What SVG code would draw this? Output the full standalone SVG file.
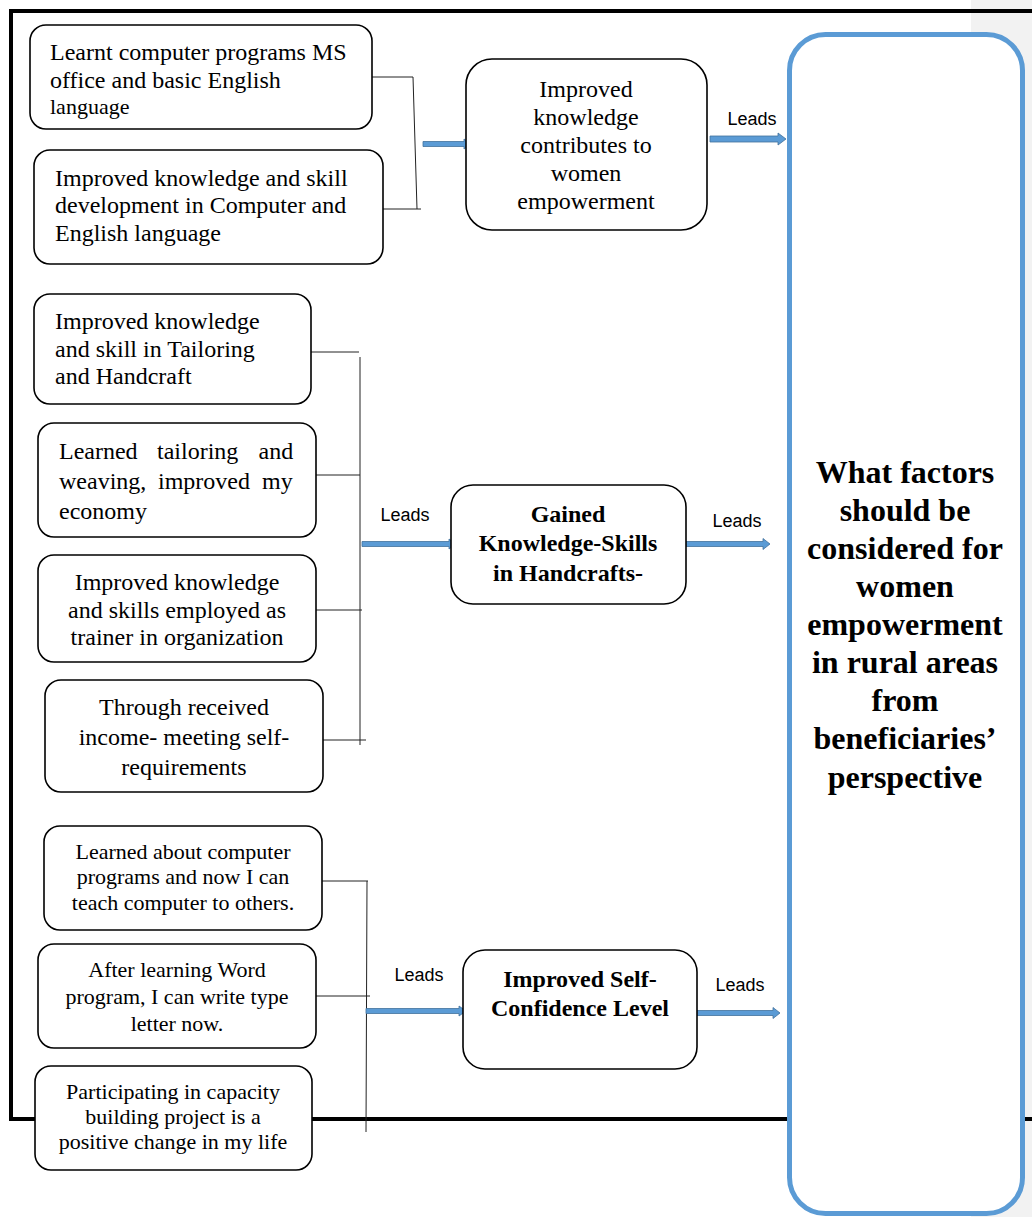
<svg xmlns="http://www.w3.org/2000/svg" width="1032" height="1217" viewBox="0 0 1032 1217">
<style>
.box{fill:#fff;stroke:#000;stroke-width:1.6}
.t{font-family:"Liberation Serif","Times New Roman",serif;font-size:24px;fill:#000}
.s{font-size:22px}
.c{text-anchor:middle}
.b{font-weight:bold}
.big{font-size:32px}
.lead{font-family:"Liberation Sans",Arial,sans-serif;font-size:18px;fill:#000;text-anchor:middle}
.ln{stroke:#222;stroke-width:1;fill:none}
.arr{fill:#5b9bd5;stroke:#41719c;stroke-width:0.8}
.frame{stroke:#000;stroke-width:4;fill:none}
</style>
<rect x="0" y="0" width="1032" height="1217" fill="#fff"/>
<rect x="971" y="0" width="61" height="1217" fill="#f2f2f2"/>
<g id="frame">
<line class="frame" x1="9" y1="11" x2="1032" y2="11"/>
<line class="frame" x1="11" y1="9" x2="11" y2="1121"/>
<line class="frame" x1="9" y1="1119" x2="1032" y2="1119"/>
</g>
<g id="connectors">
<polyline class="ln" points="372,77 413,77 417,209"/>
<line class="ln" x1="383" y1="209" x2="421" y2="209"/>
<line class="ln" x1="311" y1="352" x2="359" y2="352"/>
<line class="ln" x1="360" y1="357" x2="360" y2="745"/>
<line class="ln" x1="316" y1="475" x2="360" y2="475"/>
<line class="ln" x1="316" y1="610" x2="362" y2="610"/>
<line class="ln" x1="323" y1="740" x2="366" y2="740"/>
<line class="ln" x1="322" y1="881" x2="368" y2="881"/>
<line class="ln" x1="367" y1="881" x2="366" y2="1132"/>
<line class="ln" x1="316" y1="996" x2="370" y2="996"/>
<polygon class="arr" points="423,141.5 464,141.5 464,139 471,144 464,149 464,146.5 423,146.5"/>
<polygon class="arr" points="710,136 778,136 778,133 786,139 778,145 778,142 710,142"/>
<polygon class="arr" points="362,541.5 449,541.5 449,539 456,544 449,549 449,546.5 362,546.5"/>
<polygon class="arr" points="686,541.5 763,541.5 763,538.5 770,544 763,549.5 763,546.5 686,546.5"/>
<polygon class="arr" points="366,1008.5 459,1008.5 459,1006 466,1011 459,1016 459,1013.5 366,1013.5"/>
<polygon class="arr" points="697,1010.5 773,1010.5 773,1007.5 780,1013 773,1018.5 773,1015.5 697,1015.5"/>
<text class="lead" x="752" y="125">Leads</text>
<text class="lead" x="405" y="521">Leads</text>
<text class="lead" x="737" y="527">Leads</text>
<text class="lead" x="419" y="981">Leads</text>
<text class="lead" x="740" y="991">Leads</text>
</g>
<g id="n1">
<rect class="box" x="30" y="25" width="342" height="104" rx="16"/>
<text class="t" x="50" y="60">Learnt computer programs MS</text>
<text class="t" x="50" y="88">office and basic English</text>
<text class="t s" x="50" y="114">language</text>
</g>
<g id="n2">
<rect class="box" x="34" y="150" width="349" height="114" rx="16"/>
<text class="t" x="55" y="186">Improved knowledge and skill</text>
<text class="t" x="55" y="213">development in Computer and</text>
<text class="t" x="55" y="241">English language</text>
</g>
<g id="n3">
<rect class="box" x="466" y="59" width="241" height="171" rx="26"/>
<text class="t c" x="586" y="97">Improved</text>
<text class="t c" x="586" y="125">knowledge</text>
<text class="t c" x="586" y="153">contributes to</text>
<text class="t c" x="586" y="181">women</text>
<text class="t c" x="586" y="209">empowerment</text>
</g>
<g id="n4">
<rect class="box" x="34" y="294" width="277" height="110" rx="16"/>
<text class="t" x="55" y="329">Improved knowledge</text>
<text class="t" x="55" y="357">and skill in Tailoring</text>
<text class="t" x="55" y="384">and Handcraft</text>
</g>
<g id="n5">
<rect class="box" x="38" y="423" width="278" height="114" rx="16"/>
<text class="t" y="459"><tspan x="59">Learned</tspan><tspan x="157">tailoring</tspan><tspan x="258.5">and</tspan></text>
<text class="t" y="489"><tspan x="59">weaving,</tspan><tspan x="158">improved</tspan><tspan x="262">my</tspan></text>
<text class="t" x="59" y="519">economy</text>
</g>
<g id="n6">
<rect class="box" x="38" y="555" width="278" height="107" rx="16"/>
<text class="t c" x="177" y="590">Improved knowledge</text>
<text class="t c" x="177" y="618">and skills employed as</text>
<text class="t c" x="177" y="645">trainer in organization</text>
</g>
<g id="n7">
<rect class="box" x="45" y="680" width="278" height="112" rx="16"/>
<text class="t c" x="184" y="715">Through received</text>
<text class="t c" x="184" y="745">income- meeting self-</text>
<text class="t c" x="184" y="775">requirements</text>
</g>
<g id="n8">
<rect class="box" x="451" y="485" width="235" height="119" rx="22"/>
<text class="t c b" x="568" y="522">Gained</text>
<text class="t c b" x="568" y="551">Knowledge-Skills</text>
<text class="t c b" x="568" y="581">in Handcrafts-</text>
</g>
<g id="n9">
<rect class="box" x="44" y="826" width="278" height="104" rx="16"/>
<text class="t s c" x="183" y="859">Learned about computer</text>
<text class="t s c" x="183" y="884">programs and now I can</text>
<text class="t s c" x="183" y="910">teach computer to others.</text>
</g>
<g id="n10">
<rect class="box" x="38" y="944" width="278" height="104" rx="16"/>
<text class="t s c" x="177" y="977">After learning Word</text>
<text class="t s c" x="177" y="1004">program, I can write type</text>
<text class="t s c" x="177" y="1031">letter now.</text>
</g>
<g id="n11">
<rect class="box" x="35" y="1066" width="277" height="104" rx="16"/>
<text class="t s c" x="173" y="1099">Participating in capacity</text>
<text class="t s c" x="173" y="1124">building project is a</text>
<text class="t s c" x="173" y="1149">positive change in my life</text>
</g>
<g id="n12">
<rect class="box" x="463" y="950" width="234" height="119" rx="22"/>
<text class="t c b" x="580" y="987">Improved Self-</text>
<text class="t c b" x="580" y="1016">Confidence Level</text>
</g>
<g id="n13">
<rect x="789.5" y="34.5" width="233" height="1179" rx="36" fill="#fff" stroke="#5b9bd5" stroke-width="5"/>
<text class="t c b big" x="905" y="483">What factors</text>
<text class="t c b big" x="905" y="521">should be</text>
<text class="t c b big" x="905" y="559">considered for</text>
<text class="t c b big" x="905" y="597">women</text>
<text class="t c b big" x="905" y="635">empowerment</text>
<text class="t c b big" x="905" y="673">in rural areas</text>
<text class="t c b big" x="905" y="711">from</text>
<text class="t c b big" x="905" y="749">beneficiaries’</text>
<text class="t c b big" x="905" y="788">perspective</text>
</g>
</svg>
